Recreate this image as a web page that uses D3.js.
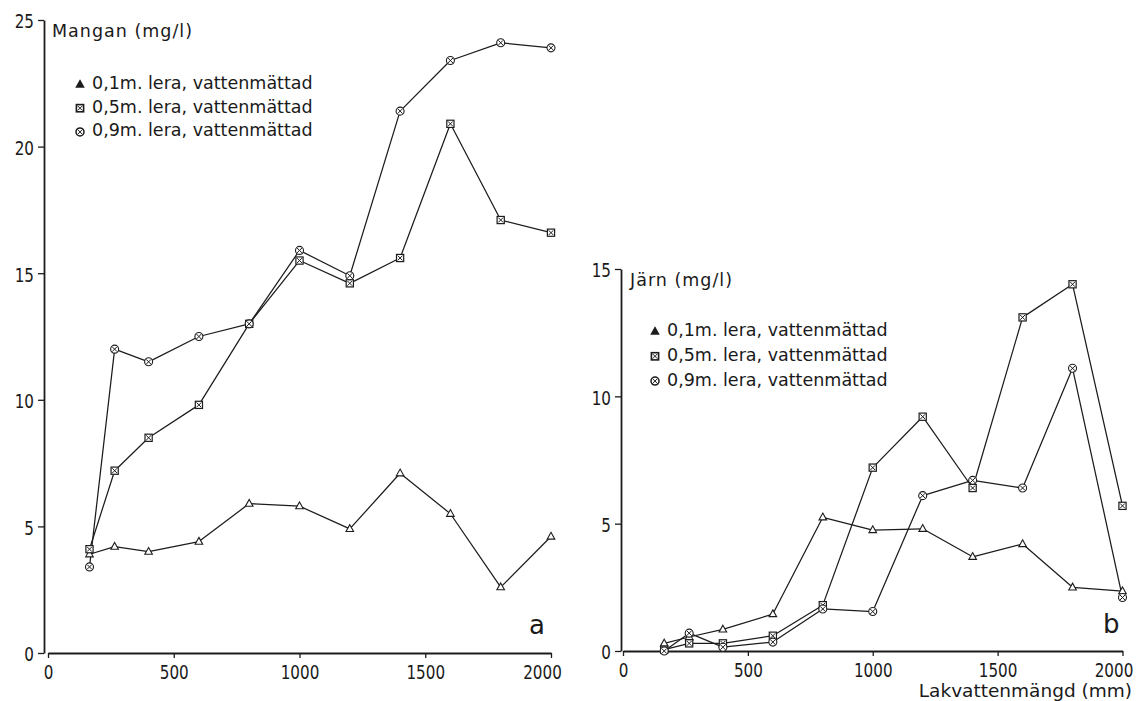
<!DOCTYPE html>
<html>
<head>
<meta charset="utf-8">
<script src="https://cdn.jsdelivr.net/npm/d3@7"></script>
<style>
  html, body { margin: 0; padding: 0; background: #fff; }
  svg { display: block; }
  text { font-family: "DejaVu Sans", sans-serif; fill: #1a1a1a; }
</style>
</head>
<body>
<svg id="chart" width="1136" height="701"></svg>
<script>
// Leachate volume (mm) at each sampling
const flow = [165, 265, 400, 600, 800, 1000, 1200, 1400, 1600, 1800, 2000];

// Manganese (mg/l)
const mangan01 = [3.9, 4.2, 4.0, 4.4, 5.9, 5.8, 4.9, 7.1, 5.5, 2.6, 4.6];
const mangan05 = [4.1, 7.2, 8.5, 9.8, 13.0, 15.5, 14.6, 15.6, 20.9, 17.1, 16.6];
const mangan09 = [3.4, 12.0, 11.5, 12.5, 13.0, 15.9, 14.9, 21.4, 23.4, 24.1, 23.9];

// Iron (mg/l)
const jarn01 = [0.3, 0.55, 0.85, 1.45, 5.25, 4.75, 4.8, 3.7, 4.2, 2.5, 2.35];
const jarn05 = [0.05, 0.3, 0.3, 0.6, 1.8, 7.2, 9.2, 6.4, 13.1, 14.4, 5.7];
const jarn09 = [0.0, 0.7, 0.15, 0.35, 1.65, 1.55, 6.1, 6.7, 6.4, 11.1, 2.1];

const seriesNames = [
  "0,1m. lera, vattenmättad",
  "0,5m. lera, vattenmättad",
  "0,9m. lera, vattenmättad"
];
const markerKinds = ["triangle", "square", "circle"];

const xTicks = [0, 500, 1000, 1500, 2000];
const manganTicks = [0, 5, 10, 15, 20, 25];
const jarnTicks = [0, 5, 10, 15];

const xAxisTitle = "Lakvattenmängd (mm)";

const svg = d3.select("#chart");
const INK = "#1c1c1c";

function drawMarker(g, kind, legend) {
  if (kind === "triangle") {
    g.append("path")
      .attr("d", "M0,-4.2 L3.8,2.6 L-3.8,2.6 Z")
      .attr("fill", legend ? INK : "#fff")
      .attr("stroke", INK).attr("stroke-width", 1.1);
  } else if (kind === "square") {
    g.append("rect")
      .attr("x", -3.6).attr("y", -3.6).attr("width", 7.2).attr("height", 7.2)
      .attr("fill", "#fff").attr("stroke", INK).attr("stroke-width", legend ? 1.6 : 1.2);
    g.append("path")
      .attr("d", "M-2.4,-2.4 L2.4,2.4 M2.4,-2.4 L-2.4,2.4")
      .attr("stroke", INK).attr("stroke-width", 1);
  } else {
    g.append("circle")
      .attr("r", 4).attr("fill", "#fff")
      .attr("stroke", INK).attr("stroke-width", legend ? 1.5 : 1.1);
    g.append("path")
      .attr("d", "M-2.5,-2.5 L2.5,2.5 M2.5,-2.5 L-2.5,2.5")
      .attr("stroke", INK).attr("stroke-width", 1);
  }
}

function drawPanel(p) {
  const x = d3.scaleLinear().domain([0, 2000]).range(p.xRange);
  const y = d3.scaleLinear().domain([0, p.yMax]).range(p.yRange);
  const g = svg.append("g");

  // x axis; the last label is pulled in a little from the axis end
  const xa = g.append("g")
    .attr("transform", `translate(0,${p.yRange[0]})`)
    .call(d3.axisBottom(x).tickValues(xTicks).tickFormat(d3.format("d"))
      .tickSizeInner(5).tickSizeOuter(0).tickPadding(8));
  xa.selectAll("text")
    .attr("font-size", 19)
    .attr("transform", d => d === 2000 ? "translate(-9,0) scale(0.8,1)" : "scale(0.8,1)");

  // y axis
  const ya = g.append("g")
    .attr("transform", `translate(${p.xRange[0] - p.yAxisGap},0)`)
    .call(d3.axisLeft(y).tickValues(p.yTicks).tickFormat(d3.format("d"))
      .tickSizeInner(6).tickSizeOuter(0).tickPadding(0));
  ya.selectAll("text")
    .attr("font-size", 19)
    .attr("x", 0)
    .attr("dy", "0.42em")
    .attr("transform", "translate(-10,0) scale(0.8,1)");

  g.selectAll(".domain").attr("stroke", INK).attr("stroke-width", 1.8);
  g.selectAll(".tick line").attr("stroke", INK).attr("stroke-width", 1.3);
  g.selectAll(".tick text").attr("fill", "#1a1a1a").attr("font-family", "DejaVu Sans, sans-serif");

  // series lines and markers
  const line = d3.line().x((d, i) => x(flow[i])).y(d => y(d));
  p.series.forEach((vals) => {
    g.append("path")
      .datum(vals)
      .attr("d", line)
      .attr("fill", "none")
      .attr("stroke", INK)
      .attr("stroke-width", 1.25)
      .attr("stroke-linejoin", "round");
  });
  p.series.forEach((vals, si) => {
    vals.forEach((v, i) => {
      const m = g.append("g").attr("transform", `translate(${x(flow[i])},${y(v)})`);
      drawMarker(m, markerKinds[si], false);
    });
  });

  // quantity title
  g.append("text")
    .attr("x", p.titlePos[0]).attr("y", p.titlePos[1])
    .attr("font-size", 17.5)
    .attr("letter-spacing", 1)
    .text(p.title);

  // legend
  seriesNames.forEach((name, i) => {
    const ty = p.legendPos[1] + i * p.legendStep;
    const m = g.append("g").attr("transform", `translate(${p.legendPos[0] - 12},${ty - 4.5})`);
    drawMarker(m, markerKinds[i], true);
    g.append("text")
      .attr("x", p.legendPos[0]).attr("y", ty)
      .attr("font-size", 17.5)
      .text(name);
  });

  // panel letter
  g.append("text")
    .attr("x", p.letterPos[0]).attr("y", p.letterPos[1])
    .attr("font-size", 26)
    .text(p.letter);

  return { x, y };
}

drawPanel({
  xRange: [48, 551], yRange: [653, 20], yMax: 25, yTicks: manganTicks, yAxisGap: 4,
  series: [mangan01, mangan05, mangan09],
  title: "Mangan (mg/l)", titlePos: [52, 36.5],
  legendPos: [92, 89], legendStep: 23.7,
  letter: "a", letterPos: [529, 634]
});

drawPanel({
  xRange: [623, 1122.5], yRange: [651, 269], yMax: 15, yTicks: jarnTicks, yAxisGap: 2,
  series: [jarn01, jarn05, jarn09],
  title: "Järn (mg/l)", titlePos: [630, 286],
  legendPos: [667, 336], legendStep: 24.8,
  letter: "b", letterPos: [1103, 633]
});

svg.append("text")
  .attr("x", 1132).attr("y", 697)
  .attr("text-anchor", "end")
  .attr("font-size", 18.5)
  .text(xAxisTitle);
</script>
</body>
</html>
